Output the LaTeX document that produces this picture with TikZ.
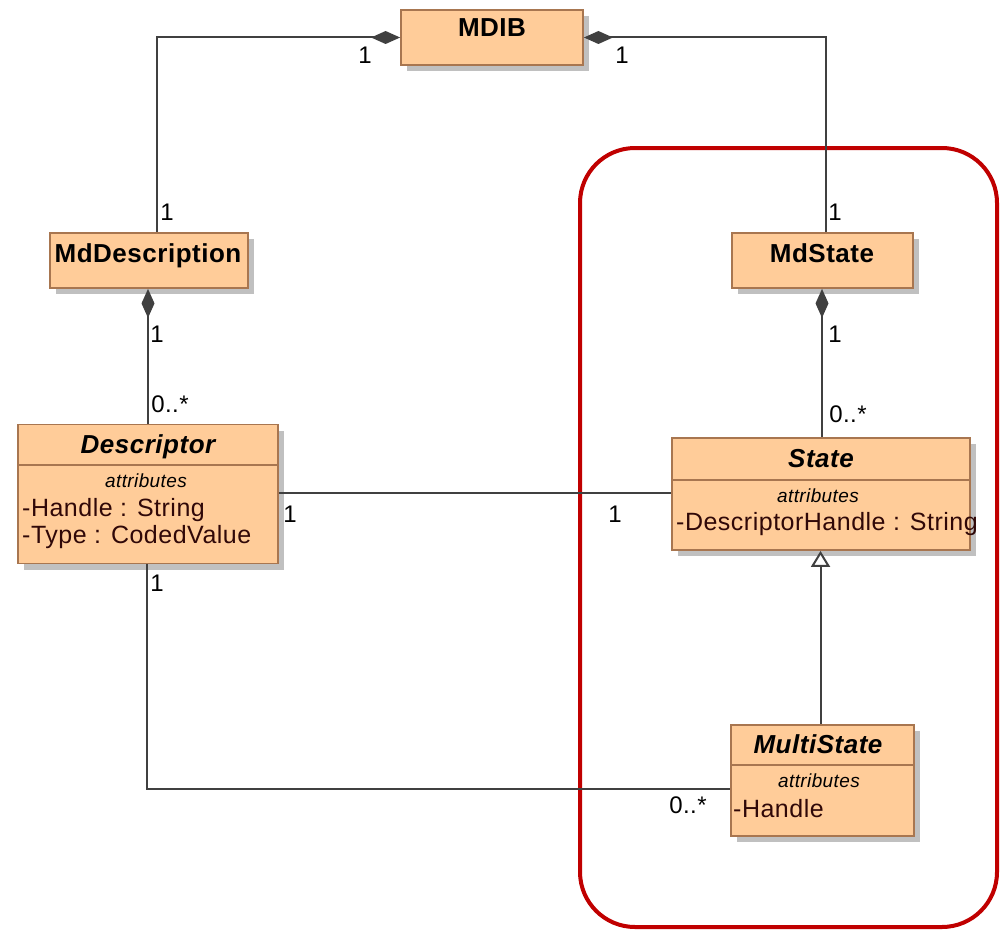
\documentclass[tikz,border=0pt]{standalone}
\usepackage{fontspec}
\setmainfont{Liberation Sans}[LetterSpace=2]
\usetikzlibrary{arrows.meta,shadows,calc}
\definecolor{boxfill}{RGB}{255,204,153}
\definecolor{boxline}{RGB}{168,118,80}
\definecolor{shad}{RGB}{192,192,192}
\definecolor{conn}{RGB}{64,64,64}
\definecolor{attrcol}{RGB}{48,8,8}
\definecolor{hl}{RGB}{192,0,0}
\begin{document}
\begin{tikzpicture}[x=1pt,y=-1pt,
  cls/.style={draw=boxline, line width=1.8pt, fill=boxfill, inner sep=0pt,
    drop shadow={shadow xshift=6pt, shadow yshift=-6pt, fill=shad, opacity=1}},
  divider/.style={draw=boxline, line width=1.8pt},
  title/.style={font=\fontsize{26}{30}\selectfont\bfseries, inner sep=0pt, anchor=base},
  ititle/.style={font=\fontsize{26}{30}\selectfont\bfseries\itshape, inner sep=0pt, anchor=base},
  attrhead/.style={font=\fontsize{19}{22}\selectfont\itshape, inner sep=0pt, anchor=base},
  attrline/.style={font=\fontsize{25}{29}\selectfont, text=attrcol, inner sep=0pt, anchor=base west},
  conn/.style={draw=conn, line width=2pt},
  comp/.style={conn, -{Diamond[length=29pt,width=13pt,fill=conn]}},
  compr/.style={conn, {Diamond[length=29pt,width=13pt,fill=conn]}-},
  gen/.style={conn, -{Triangle[open,length=16pt,width=19pt,fill=white]}},
  mult/.style={font=\fontsize{24}{28}\selectfont, inner sep=0pt}
]
\useasboundingbox (0,0) rectangle (1003,931);

% highlight frame
\draw[hl, line width=4pt, rounded corners=55pt] (580,148) rectangle (997,927);

% classes
\node[cls, minimum width=182pt, minimum height=55pt] (mdib) at (492,37.5) {};
\node[cls, minimum width=198pt, minimum height=55pt] (mddesc) at (149,260.5) {};
\node[cls, minimum width=181pt, minimum height=55pt] (mdstate) at (822.5,260.5) {};
\node[cls, minimum width=260pt, minimum height=139pt] (desc) at (148,494) {};
\node[cls, minimum width=298pt, minimum height=112pt] (state) at (821,494) {};
\node[cls, minimum width=183pt, minimum height=111pt] (multi) at (822.5,780.5) {};

% dividers
\draw[divider] ($(desc.north west)+(0,41.5)$) -- ($(desc.north east)+(0,41.5)$);
\draw[divider] ($(state.north west)+(0,43)$) -- ($(state.north east)+(0,43)$);
\draw[divider] ($(multi.north west)+(0,41)$) -- ($(multi.north east)+(0,41)$);

% texts
\node[title] (tmdib) at (492,37) {MDIB};
\node[title] (tmddesc) at (148,262) {MdDescription};
\node[title] (tmdstate) at (822,262) {MdState};
\node[ititle] (tdesc) at (148,453) {Descriptor};
\node[attrhead] (adesc) at (146,487) {attributes};
\node[attrline] (l1) at (22,516) {-Handle : String};
\node[attrline] (l2) at (22,543) {-Type : CodedValue};
\node[ititle] (tstate) at (821,467) {State};
\node[attrhead] (astate) at (818,502) {attributes};
\node[attrline] (l3) at (676,530) {-DescriptorHandle : String};
\node[ititle] (tmulti) at (818,753) {MultiState};
\node[attrhead] (amulti) at (819,787) {attributes};
\node[attrline] (l4) at (733,817) {-Handle};

% connectors
\draw[comp] ([xshift=8pt]mddesc.north) |- (mdib.west);
\draw[comp] ([xshift=3.5pt]mdstate.north) |- (mdib.east);
\draw[compr] (desc.north |- mddesc.south) -- (desc.north);
\draw[compr] ([xshift=1pt]state.north |- mdstate.south) -- ([xshift=1pt]state.north);
\draw[conn] ($(desc.east)+(0,-1.5)$) -- ($(state.west)+(0,-1.5)$);
\draw[conn] ([xshift=-1pt]desc.south) |- ($(multi.west)+(0,8.5)$);
\draw[gen] ([xshift=-2pt]multi.north) -- ([xshift=-2pt]multi.north |- state.south);

% multiplicities
\node[mult] (m1) at (365,55) {1};
\node[mult] (m2) at (622,55) {1};
\node[mult] (m3) at (167,212) {1};
\node[mult] (m4) at (835,212) {1};
\node[mult] (m5) at (157,334) {1};
\node[mult] (m6) at (170,404) {0..*};
\node[mult] (m7) at (835,334) {1};
\node[mult] (m8) at (848,414) {0..*};
\node[mult] (m9) at (290,514) {1};
\node[mult] (m10) at (615,514) {1};
\node[mult] (m11) at (157,583) {1};
\node[mult] (m12) at (688,805) {0..*};
\end{tikzpicture}
\end{document}
